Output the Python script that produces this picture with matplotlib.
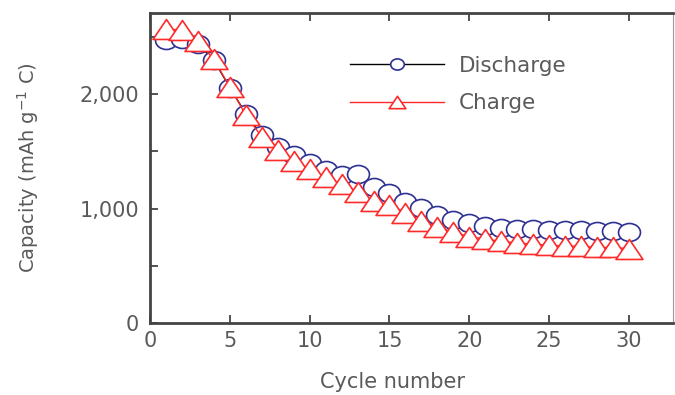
import matplotlib
matplotlib.use("Agg")
import matplotlib.pyplot as plt
from matplotlib.path import Path
from matplotlib.transforms import Affine2D
from matplotlib.ticker import MultipleLocator, FixedLocator, FixedFormatter

cycles = list(range(1, 31))
discharge = [2470, 2480, 2440, 2297, 2058, 1831, 1642, 1540, 1467, 1400,
             1336, 1293, 1301, 1190, 1133, 1060, 1001, 943, 900, 870,
             847, 832, 824, 818, 812, 812, 812, 803, 803, 797]
charge = [2568, 2563, 2464, 2304, 2064, 1817, 1627, 1508, 1417, 1348,
          1272, 1217, 1147, 1063, 1030, 963, 893, 838, 795, 754,
          734, 713, 701, 687, 681, 672, 672, 661, 661, 649]
x_ticks = [0, 5, 10, 15, 20, 25, 30]
y_ticks = [0, 1000, 2000]
y_tick_labels = ["0", "1,000", "2,000"]

TXT = "#5a5a5a"
plt.rcParams['font.family'] = ['DejaVu Sans']

# horizontally widened marker shapes (the reference is stretched sideways)
ellipse = Path.unit_circle().transformed(Affine2D().scale(1.22, 1.0))
tri = Path([(0, 1), (-1.35, -1), (1.35, -1), (0, 1)],
           [Path.MOVETO, Path.LINETO, Path.LINETO, Path.CLOSEPOLY])

W, H = 675, 395
fig = plt.figure(figsize=(W / 100, H / 100), dpi=100)
ax = fig.add_axes([150 / W, 1 - 323 / H, (673 - 150) / W, (323 - 13) / H])

ax.plot(cycles, discharge, color="black", lw=1.0, marker=ellipse, ms=15.8,
        mfc="white", mec="#2e3192", mew=1.2, label="Discharge", zorder=3)
ax.plot(cycles, charge, color="#ff2a2a", lw=1.0, marker=tri, ms=19.4,
        mfc="white", mec="#ff2a2a", mew=1.2, label="Charge", zorder=4)

ax.set_xlim(0, 32.76)
ax.set_ylim(0, 2710)
ax.xaxis.set_major_locator(FixedLocator(x_ticks))
ax.yaxis.set_major_locator(FixedLocator(y_ticks))
ax.yaxis.set_major_formatter(FixedFormatter(y_tick_labels))
ax.yaxis.set_minor_locator(MultipleLocator(500))

ax.tick_params(axis="both", which="both", direction="in", colors="#444444",
               labelcolor=TXT, labelsize=15, width=1.3)
ax.tick_params(axis="both", which="major", length=6)
ax.tick_params(axis="y", which="minor", length=6)
ax.tick_params(axis="x", top=True, pad=6)
ax.tick_params(axis="y", pad=8)

for s in ["left", "bottom", "top"]:
    ax.spines[s].set_color("#444444")
    ax.spines[s].set_linewidth(2)
ax.spines["right"].set_color("#999999")
ax.spines["right"].set_linewidth(0.8)

fig.text(392 / W, 1 - 382 / H, "Cycle number", ha="center", va="center",
         fontsize=15, color=TXT)
fig.text(28 / W, 1 - 168 / H, "Capacity (mAh g$^{-1}$ C)", ha="center",
         va="center", rotation=90, fontsize=14, color=TXT)

leg = ax.legend(loc="upper left", bbox_to_anchor=(350 / W, 1 - 56 / H),
                bbox_transform=fig.transFigure, frameon=False, fontsize=15.5,
                handlelength=4.35, handletextpad=0.7, labelspacing=0.8,
                borderpad=0, borderaxespad=0, markerscale=0.62)
for t in leg.get_texts():
    t.set_color(TXT)

fig.savefig("out.png", dpi=100)
